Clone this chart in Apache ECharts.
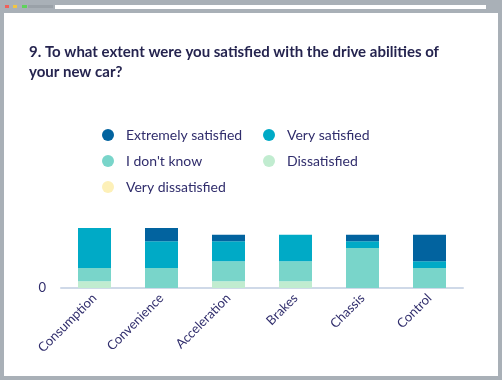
<!DOCTYPE html>
<html>
<head>
<meta charset="utf-8">
<script src="https://cdn.jsdelivr.net/npm/echarts@6/dist/echarts.min.js"></script>
<style>
html,body{margin:0;padding:0;background:#a9b0b7;}
#c{width:502px;height:380px;}
</style>
</head>
<body>
<div id="c"></div>
<script>
const categories = ['Consumption', 'Convenience', 'Acceleration', 'Brakes', 'Chassis', 'Control'];
const seriesNames = ['Extremely satisfied', 'Very satisfied', "I don't know", 'Dissatisfied', 'Very dissatisfied'];
const extremelySatisfied = [0, 2, 1, 0, 1, 4];
const verySatisfied = [6, 4, 3, 4, 1, 1];
const dontKnow = [2, 3, 3, 3, 6, 3];
const dissatisfied = [1, 0, 1, 1, 0, 0];
const veryDissatisfied = [0, 0, 0, 0, 0, 0];
const yTicks = [0];

const colors = ['#02639f', '#00aac6', '#79d5ca', '#c1ecd0', '#fdf0b8'];
const values = [extremelySatisfied, verySatisfied, dontKnow, dissatisfied, veryDissatisfied];
const textColor = '#302d6c';

const chart = echarts.init(document.getElementById('c'), null, {renderer: 'canvas'});
const order = [4, 3, 2, 1, 0];
const series = order.map(i => ({
  name: seriesNames[i],
  type: 'bar',
  stack: 'total',
  barWidth: 33,
  itemStyle: {color: colors[i]},
  data: values[i],
  emphasis: {disabled: true}
}));

chart.setOption({
  animation: false,
  backgroundColor: '#a9b0b7',
  graphic: [
    {type: 'rect', shape: {x: 4, y: 13, width: 494, height: 363}, style: {fill: '#ffffff'}, z: -10},
    {type: 'rect', shape: {x: 55, y: 5, width: 431, height: 4}, style: {fill: '#ffffff'}, z: -10},
    {type: 'rect', shape: {x: 5, y: 5, width: 4, height: 3}, style: {fill: '#f0605a'}, z: -10},
    {type: 'rect', shape: {x: 13, y: 5, width: 4, height: 3}, style: {fill: '#f2c542'}, z: -10},
    {type: 'rect', shape: {x: 22, y: 5, width: 5, height: 3}, style: {fill: '#5ed35a'}, z: -10},
    {type: 'rect', shape: {x: 28, y: 5, width: 25, height: 3}, style: {fill: '#9aa1a8'}, z: -10},
    {type: 'text', left: 29, top: 42, style: {
      text: '9. To what extent were you satisfied with the drive abilities of\nyour new car?',
      font: 'bold 15px Lato', fill: '#25244f', lineHeight: 20
    }}
  ],
  legend: {
    data: seriesNames,
    left: 102,
    top: 127,
    width: 340,
    padding: 0,
    icon: 'circle',
    itemWidth: 26,
    itemHeight: 12,
    itemGap: 10,
    selectedMode: false,
    textStyle: {color: textColor, fontSize: 14, fontFamily: 'Lato', width: 127, lineHeight: 16}
  },
  grid: {left: 61, right: 39, top: 228, bottom: 92, containLabel: false},
  xAxis: {
    type: 'category',
    data: categories,
    axisLine: {lineStyle: {color: '#cfd9e8', width: 2}},
    axisTick: {show: false},
    axisLabel: {rotate: 45, margin: 8, color: textColor, fontSize: 13, fontFamily: 'Lato', interval: 0}
  },
  yAxis: {
    type: 'value',
    min: 0,
    max: 9,
    interval: 9,
    splitLine: {show: false},
    axisLine: {show: false},
    axisTick: {show: false},
    axisLabel: {
      color: textColor, fontSize: 13, fontFamily: 'Lato', margin: 15,
      formatter: v => (yTicks.indexOf(v) >= 0 ? String(v) : '')
    }
  },
  series: series
});
</script>
</body>
</html>
